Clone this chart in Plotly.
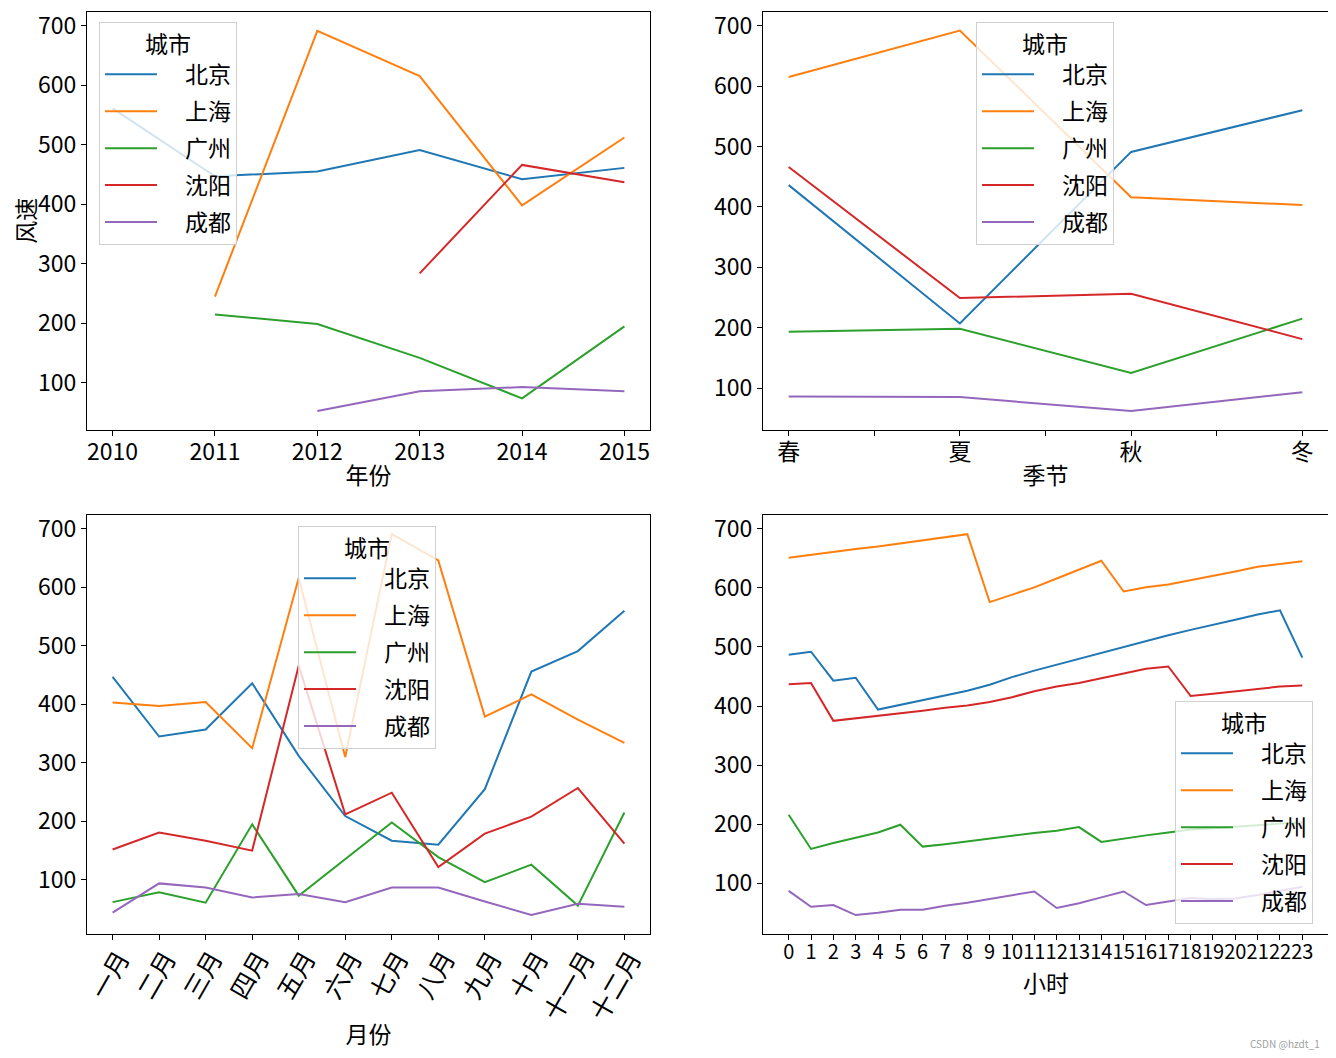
import plotly.graph_objects as go

# ---------------- data ----------------
cities = ['北京', '上海', '广州', '沈阳', '成都']
colors = ['#1f77b4', '#ff7f0e', '#2ca02c', '#d62728', '#9467bd']

years = [2010, 2011, 2012, 2013, 2014, 2015]
year_bj = [561, 447, 455, 491, 442, 461]
year_sh = [None, 245, 691, 615, 398, 512]
year_gz = [None, 215, 199, 142, 74, 195]
year_sy = [None, None, None, 284, 466, 437]
year_cd = [None, None, 53, 86, 93, 86]

seasons = ['春', '夏', '秋', '冬']
season_bj = [436, 207, 491, 560]
season_sh = [615, 692, 416, 403]
season_gz = [193, 198, 125, 215]
season_sy = [466, 249, 256, 181]
season_cd = [86, 85, 62, 93]

months = ['一月', '二月', '三月', '四月', '五月', '六月', '七月', '八月', '九月', '十月', '十一月', '十二月']
month_bj = [447, 345, 357, 436, 312, 209, 167, 160, 255, 456, 491, 560]
month_sh = [403, 397, 404, 325, 616, 310, 691, 646, 379, 417, 374, 334]
month_gz = [62, 79, 61, 195, 73, 135, 198, 139, 96, 126, 56, 215]
month_sy = [152, 181, 167, 150, 466, 212, 249, 122, 179, 208, 257, 162]
month_cd = [44, 94, 87, 70, 76, 62, 87, 87, 63, 40, 59, 54]

hours = list(range(24))
hour_bj = [487, 492, 443, 448, 394, 402, 410, 418, 426, 436, 449, 460, 470, 481, 491, 501, 511, 520, 529, 537, 546, 555, 562, 482]
hour_sh = [651, 656, 662, 666, 670, 675, 680, 685, 691, 576, 588, 601, 616, 631, 646, 594, 601, 606, 613, 621, 628, 636, 640, 645]
hour_gz = [216, 158, 168, 177, 186, 199, 162, 166, 171, 175, 180, 185, 189, 195, 170, 176, 181, 186, 191, 193, 195, 198, 201, 203]
hour_sy = [437, 439, 375, 379, 383, 387, 392, 397, 401, 407, 415, 425, 433, 439, 447, 456, 463, 467, 417, 421, 425, 429, 433, 435]
hour_cd = [87, 60, 63, 46, 50, 55, 55, 62, 67, 73, 79, 86, 58, 66, 76, 86, 63, 69, 75, 73, 74, 80, 87, 94]

y_ticks = [100, 200, 300, 400, 500, 600, 700]

# ---------------- figure ----------------
OFF = 8                      # default page body margin
W, H = 1336 - 2 * OFF, 1058 - 2 * OFF
FONT = 'Noto Sans CJK SC'
FS = 23
PAD = '\u2002\u2002'


def px_x(px):
    return (px - OFF) / W


def px_y(py):
    return 1 - (py - OFF) / H


fig = go.Figure()

panels = [
    ('x', 'y', 'legend', years, [year_bj, year_sh, year_gz, year_sy, year_cd]),
    ('x2', 'y2', 'legend2', list(range(len(seasons))), [season_bj, season_sh, season_gz, season_sy, season_cd]),
    ('x3', 'y3', 'legend3', list(range(len(months))), [month_bj, month_sh, month_gz, month_sy, month_cd]),
    ('x4', 'y4', 'legend4', hours, [hour_bj, hour_sh, hour_gz, hour_sy, hour_cd]),
]

for pi, (xa, ya, lg, xs, series) in enumerate(panels):
    for city, col, vals in zip(cities, colors, series):
        fig.add_trace(go.Scatter(
            x=xs, y=vals, mode='lines', name=PAD + city,
            line=dict(color=col, width=2),
            connectgaps=False, xaxis=xa, yaxis=ya, legend=lg,
            legendgroup=f'{pi}_{city}',
        ))

xdom_l = [px_x(87), px_x(650)]
xdom_r = [px_x(763), px_x(1328)]
top_dom = [px_y(430), px_y(11.5)]
bot_dom = [px_y(934), px_y(515)]

axis_common = dict(
    showline=True, mirror=True, linecolor='black', linewidth=1,
    showgrid=False, zeroline=False, ticks='outside', ticklen=5,
    tickcolor='black', tickwidth=1,
    tickfont=dict(family=FONT, size=FS, color='black'),
    automargin=False, ticklabeloverflow='allow',
)


def yax(domain, anchor, rng):
    return dict(axis_common, domain=domain, anchor=anchor, tickvals=y_ticks, range=rng)


def xtitle(t, standoff):
    return dict(text=t, font=dict(family=FONT, size=FS, color='black'), standoff=standoff)


fig.update_layout(
    width=W, height=H,
    margin=dict(l=0, r=0, t=0, b=0),
    paper_bgcolor='white', plot_bgcolor='white',
    font=dict(family=FONT, size=FS, color='black'),
    xaxis=dict(axis_common, domain=xdom_l, anchor='y', tickvals=years,
               range=[2009.75, 2015.25], ticklabelstandoff=-4, title=xtitle('年份', 2)),
    yaxis=yax(top_dom, 'x', [21, 723.5]),
    xaxis2=dict(axis_common, domain=xdom_r, anchor='y2',
                tickvals=list(range(len(seasons))), ticktext=seasons,
                range=[-0.15, 3.15], ticklabelstandoff=-4, title=xtitle('季节', 2),
                minor=dict(tickvals=[0.5, 1.5, 2.5], ticks='outside', ticklen=5,
                           tickcolor='black', tickwidth=1, showgrid=False)),
    yaxis2=yax(top_dom, 'x2', [30.5, 723.5]),
    xaxis3=dict(axis_common, domain=xdom_l, anchor='y3',
                tickvals=list(range(len(months))), ticktext=months,
                tickfont=dict(family=FONT, size=25, color='black'),
                range=[-0.55, 11.55], tickangle=-60, ticklabelshift=7, ticklabelstandoff=-6,
                title=xtitle('月份', 6)),
    yaxis3=yax(bot_dom, 'x3', [7.5, 723.5]),
    xaxis4=dict(axis_common, domain=xdom_r, anchor='y4', tickvals=hours,
                tickfont=dict(family=FONT, size=20, color='black'),
                range=[-1.15, 24.15], tickangle=0, ticklabelstandoff=-5),
    yaxis4=yax(bot_dom, 'x4', [14, 723.5]),
)

# y-axis title of the year panel
fig.add_annotation(text='风速', xref='paper', yref='paper',
                   x=px_x(25), y=(px_y(430) + px_y(11.5)) / 2, textangle=-90,
                   xanchor='center', yanchor='middle', showarrow=False,
                   font=dict(family=FONT, size=FS, color='black'))

# x-axis title of the hour panel
fig.add_annotation(text='小时', xref='paper', yref='paper',
                   x=(px_x(763) + px_x(1328)) / 2, y=px_y(982),
                   xanchor='center', yanchor='middle', showarrow=False,
                   font=dict(family=FONT, size=FS, color='black'))

legend_common = dict(
    bgcolor='rgba(255,255,255,0.8)', bordercolor='#d0d0d0', borderwidth=1,
    font=dict(family=FONT, size=FS, color='black'),
    title=dict(text='城市', side='top center', font=dict(family=FONT, size=FS, color='black')),
    itemwidth=52, tracegroupgap=4, xanchor='left', yanchor='top',
    itemclick=False, itemdoubleclick=False,
)
fig.update_layout(
    legend=dict(legend_common, x=px_x(99), y=px_y(22)),
    legend2=dict(legend_common, x=px_x(976), y=px_y(22)),
    legend3=dict(legend_common, x=px_x(298), y=px_y(526)),
    legend4=dict(legend_common, x=px_x(1175), y=px_y(701)),
)

fig.add_annotation(text='CSDN @hzdt_1', xref='paper', yref='paper', x=px_x(1322), y=px_y(1043),
                   xanchor='right', yanchor='middle', showarrow=False,
                   font=dict(family=FONT, size=10, color='#a0a0a0'))

fig.write_html('out.html')
